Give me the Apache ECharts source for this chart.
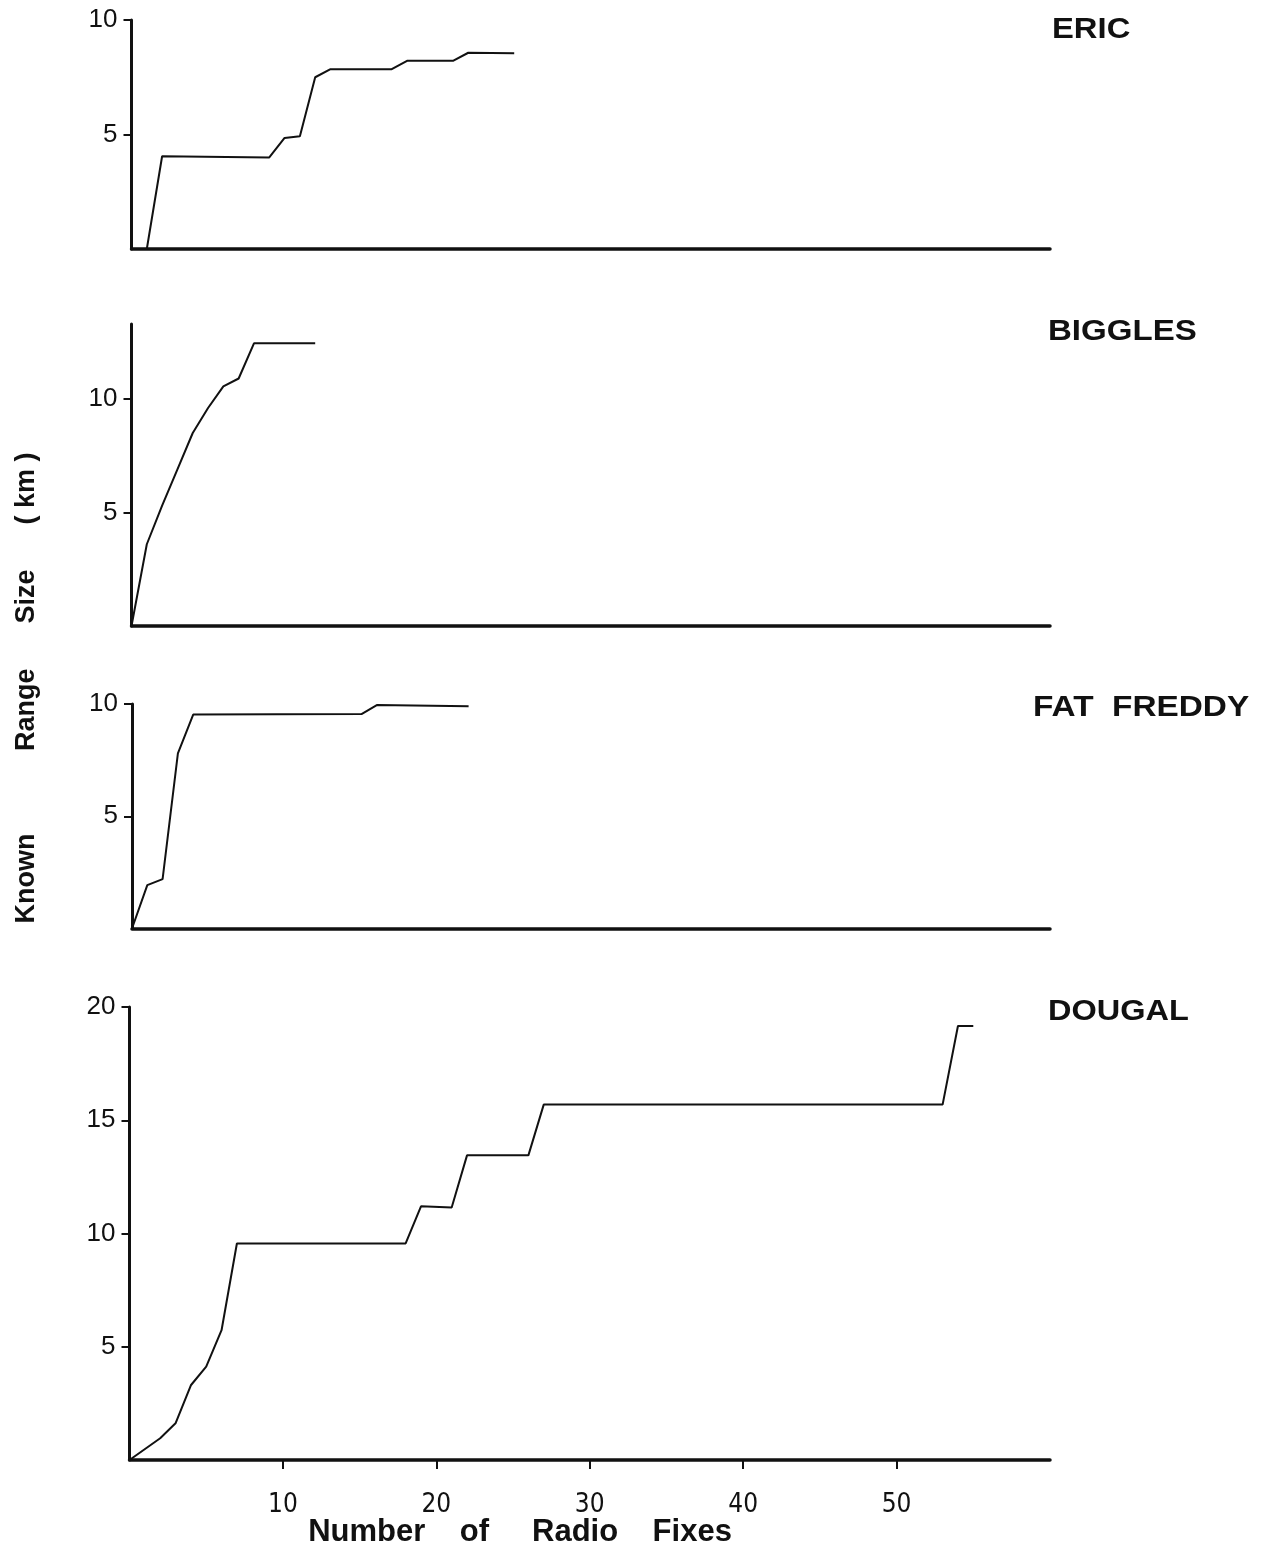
<!DOCTYPE html>
<html>
<head>
<meta charset="utf-8">
<style>
  html, body { margin: 0; padding: 0; background: #ffffff; }
  #chart { width: 1264px; height: 1552px; }
</style>
<script src="https://cdn.jsdelivr.net/npm/echarts@6/dist/echarts.min.js"></script>
</head>
<body>
<div id="chart"></div>
<script>
// Known range size (km) against number of radio fixes, one panel per animal
const animals = ['ERIC', 'BIGGLES', 'FAT  FREDDY', 'DOUGAL'];

const ericFixes = [0, 1, 2, 9, 10, 11, 12, 13, 17, 18, 21, 22, 25];
const ericRange = [0, 0, 4.05, 4.0, 4.85, 4.92, 7.5, 7.85, 7.85, 8.22, 8.22, 8.57, 8.55];

const bigglesFixes = [0, 1, 2, 3, 4, 5, 6, 7, 8, 12];
const bigglesRange = [0, 3.6, 5.3, 6.9, 8.5, 9.6, 10.55, 10.9, 12.45, 12.45];

const freddyFixes = [0, 1, 2, 3, 4, 15, 16, 22];
const freddyRange = [0, 1.93, 2.2, 7.8, 9.53, 9.55, 9.95, 9.9];

const dougalFixes = [0, 2, 3, 4, 5, 6, 7, 18, 19, 21, 22, 26, 27, 53, 54, 55];
const dougalRange = [0, 0.96, 1.62, 3.3, 4.12, 5.73, 9.56, 9.56, 11.2, 11.15, 13.45, 13.45, 15.69, 15.69, 19.16, 19.16];

const yTickValues = [[5, 10], [5, 10], [5, 10], [5, 10, 15, 20]];
const xTickValues = [10, 20, 30, 40, 50];
const yMax = [10, 13.3, 10, 20];
const xMax = 60;

const yAxisTitle = 'Known           Range      Size      ( km )';
const xAxisTitle = 'Number    of     Radio    Fixes';

const seriesFixes = [ericFixes, bigglesFixes, freddyFixes, dougalFixes];
const seriesRange = [ericRange, bigglesRange, freddyRange, dougalRange];

// panel frames in pixels
const frames = [
  { left: 131.5, top: 20,   height: 229 },
  { left: 131.5, top: 324,  height: 302 },
  { left: 132,   top: 704,  height: 224.5 },
  { left: 129.5, top: 1007, height: 453 }
];
const rightEdge = 1050;
const ink = '#111111';

const grid = [], xAxis = [], yAxis = [], series = [];
frames.forEach((f, i) => {
  grid.push({ left: f.left, top: f.top, width: rightEdge - f.left, height: f.height, containLabel: false });
  const last = i === frames.length - 1;
  xAxis.push({
    type: 'value', gridIndex: i, min: 0, max: xMax, interval: 10,
    axisLine: { show: true, lineStyle: { color: ink, width: 3.5 } },
    axisTick: { show: last, customValues: xTickValues, length: 9, lineStyle: { color: ink, width: 2 } },
    axisLabel: {
      show: last, customValues: xTickValues, margin: 32,
      color: ink, fontSize: 26,
      fontFamily: "'DejaVu Sans Condensed', 'Liberation Sans', sans-serif"
    },
    splitLine: { show: false }
  });
  yAxis.push({
    type: 'value', gridIndex: i, min: 0, max: yMax[i], interval: 5,
    axisLine: { show: true, lineStyle: { color: ink, width: 3 } },
    axisTick: { show: true, customValues: yTickValues[i], length: 8, lineStyle: { color: ink, width: 2 } },
    axisLabel: {
      show: true, customValues: yTickValues[i], margin: 14,
      color: ink, fontSize: 26, fontFamily: "'Liberation Sans', Arial, sans-serif"
    },
    splitLine: { show: false }
  });
  series.push({
    type: 'line', xAxisIndex: i, yAxisIndex: i, name: animals[i],
    data: seriesFixes[i].map((x, k) => [x, seriesRange[i][k]]),
    showSymbol: false, symbol: 'none', animation: false,
    lineStyle: { color: ink, width: 2 }
  });
});

// panel names, drawn a little wide like spaced capitals
const titlePos = [
  { x: 1052, y: 30,   sx: 1.13 },
  { x: 1048, y: 332,  sx: 1.14 },
  { x: 1033, y: 708,  sx: 1.15 },
  { x: 1048, y: 1012, sx: 1.12 }
];
const graphic = animals.map((name, i) => ({
  type: 'text', x: titlePos[i].x, y: titlePos[i].y, scaleX: titlePos[i].sx,
  style: {
    text: name, fill: ink, align: 'left', verticalAlign: 'middle',
    font: "bold 29px 'Liberation Sans', Arial, sans-serif"
  }
}));
graphic.push({
  type: 'text', x: 27, y: 688, rotation: Math.PI / 2,
  style: {
    text: yAxisTitle, fill: ink, align: 'center', verticalAlign: 'middle',
    font: "bold 27px 'Liberation Sans', Arial, sans-serif"
  }
});
graphic.push({
  type: 'text', x: 520, y: 1532,
  style: {
    text: xAxisTitle, fill: ink, align: 'center', verticalAlign: 'middle',
    font: "bold 31px 'Liberation Sans', Arial, sans-serif"
  }
});

const chart = echarts.init(document.getElementById('chart'), null, { renderer: 'canvas' });
chart.setOption({
  backgroundColor: '#ffffff',
  animation: false,
  grid, xAxis, yAxis, series, graphic
});
</script>
</body>
</html>
